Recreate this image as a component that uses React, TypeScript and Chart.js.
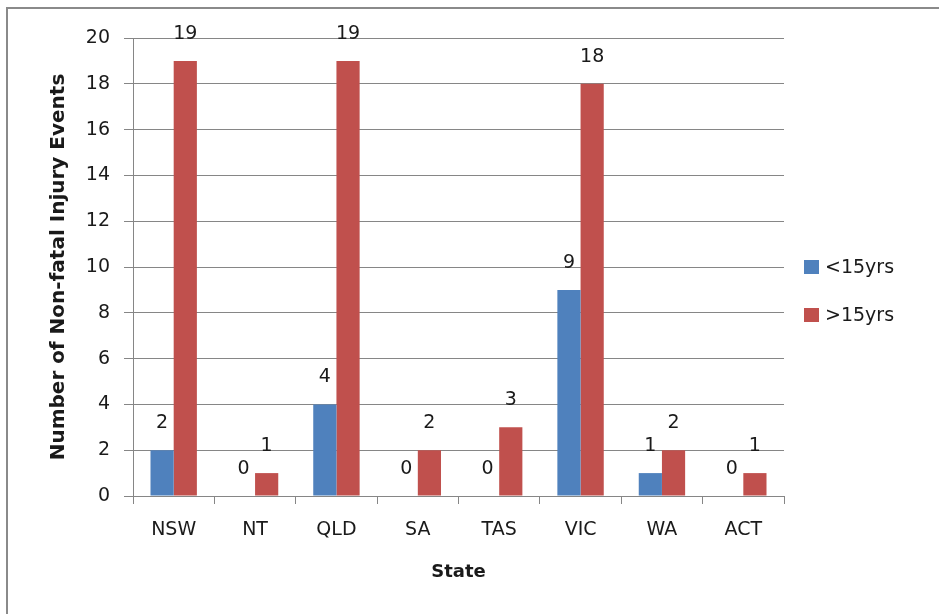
import React, { useEffect, useRef } from "react";
import { Chart, registerables } from "chart.js";

Chart.register(...registerables);

const categories = ["NSW", "NT", "QLD", "SA", "TAS", "VIC", "WA", "ACT"];
const under15 = [2, 0, 4, 0, 0, 9, 1, 0];
const over15 = [19, 1, 19, 2, 3, 18, 2, 1];
const seriesNames = ["<15yrs", ">15yrs"];
const seriesColors = ["#4F81BD", "#C0504D"];
const yTitle = "Number of Non-fatal Injury Events";
const xTitle = "State";

const FONT = "'DejaVu Sans', sans-serif";
const TEXT = "#1a1a1a";
const GRID = "#868686";

const valueLabels = {
  id: "valueLabels",
  afterDatasetsDraw(chart: any) {
    const ctx = chart.ctx;
    ctx.save();
    ctx.font = `19px ${FONT}`;
    ctx.fillStyle = TEXT;
    ctx.textAlign = "center";
    ctx.textBaseline = "middle";
    chart.data.datasets.forEach((ds: any, i: number) => {
      const meta = chart.getDatasetMeta(i);
      meta.data.forEach((bar: any, j: number) => {
        ctx.fillText(String(ds.data[j]), bar.x, bar.y - 27);
      });
    });
    ctx.restore();
  },
};

const sideLegend = {
  id: "sideLegend",
  afterDraw(chart: any) {
    const ctx = chart.ctx;
    ctx.save();
    ctx.font = `19px ${FONT}`;
    ctx.textBaseline = "middle";
    ctx.textAlign = "left";
    const x = chart.chartArea.right + 20;
    const y0 = 267;
    const gap = 48;
    chart.data.datasets.forEach((ds: any, i: number) => {
      const cy = y0 + i * gap;
      ctx.fillStyle = ds.backgroundColor;
      ctx.fillRect(x, cy - 7, 15, 14);
      ctx.fillStyle = TEXT;
      ctx.fillText(ds.label, x + 21, cy + 1);
    });
    ctx.restore();
  },
};

export default function App() {
  const ref = useRef<HTMLCanvasElement>(null);
  useEffect(() => {
    if (!ref.current) return;
    const chart = new Chart(ref.current, {
      type: "bar",
      data: {
        labels: categories,
        datasets: [
          { label: seriesNames[0], data: under15, backgroundColor: seriesColors[0] },
          { label: seriesNames[1], data: over15, backgroundColor: seriesColors[1] },
        ],
      },
      options: {
        responsive: false,
        animation: false,
        devicePixelRatio: 1,
        layout: { padding: { left: 0, right: 155, top: 38, bottom: 0 } },
        datasets: { bar: { categoryPercentage: 0.57, barPercentage: 1 } },
        plugins: {
          legend: { display: false },
          tooltip: { enabled: false },
        },
        scales: {
          x: {
            grid: { drawOnChartArea: false, drawTicks: true, tickLength: 8, color: GRID },
            border: { display: true, color: GRID },
            ticks: { color: TEXT, font: { family: FONT, size: 19 }, padding: 15 },
            title: {
              display: true,
              text: xTitle,
              color: TEXT,
              font: { family: FONT, size: 18, weight: "bold" },
              padding: { top: 0, bottom: 31 },
            },
            afterFit(scale: any) {
              scale.height = 118;
            },
          },
          y: {
            min: 0,
            max: 20,
            ticks: { stepSize: 2, color: TEXT, font: { family: FONT, size: 19 }, padding: 14 },
            grid: { color: GRID, tickLength: 9, drawTicks: true },
            border: { display: true, color: GRID },
            title: {
              display: true,
              text: yTitle,
              color: TEXT,
              font: { family: FONT, size: 20, weight: "bold" },
              padding: { top: 47, bottom: 0 },
            },
            afterFit(scale: any) {
              scale.width = 133;
            },
          },
        },
      },
      plugins: [valueLabels, sideLegend],
    });
    return () => chart.destroy();
  }, []);

  return (
    <div
      style={{
        position: "absolute",
        left: 0,
        top: 0,
        width: 939,
        height: 614,
        overflow: "hidden",
        background: "#fff",
      }}
    >
      <div
        style={{
          position: "absolute",
          left: 6,
          top: 7,
          width: 960,
          height: 640,
          border: "2px solid #8a8a8a",
        }}
      />
      <canvas ref={ref} width={939} height={614} style={{ position: "absolute", left: 0, top: 0 }} />
    </div>
  );
}
